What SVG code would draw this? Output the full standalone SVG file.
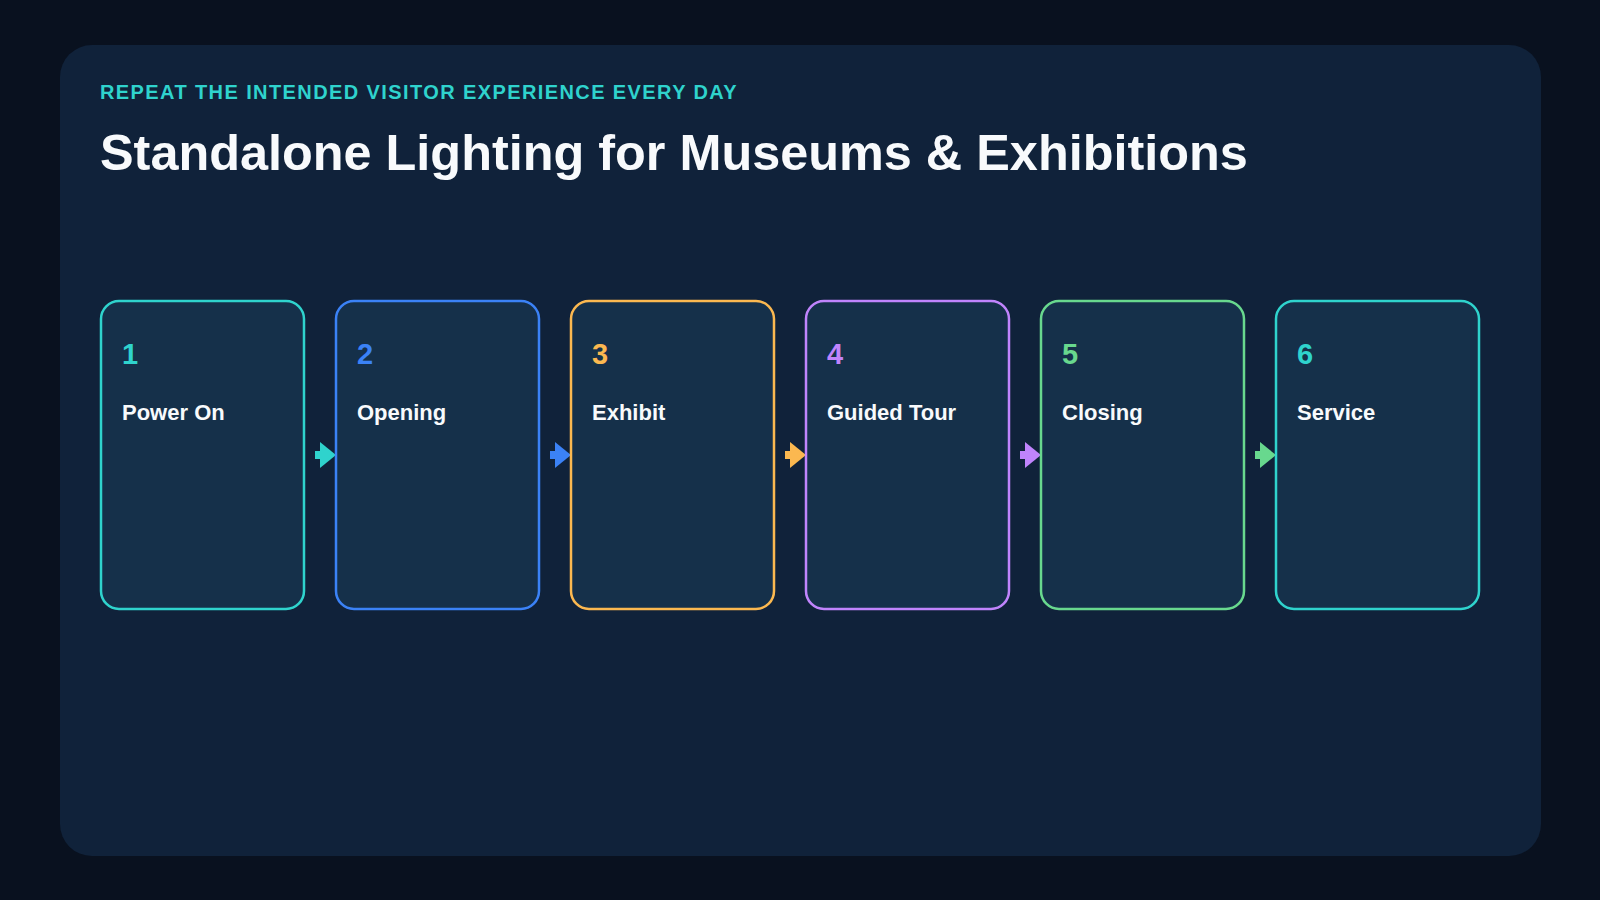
<svg xmlns="http://www.w3.org/2000/svg" width="1600" height="900" viewBox="0 0 1600 900">
<style>
.bg{fill:#09111f}
.panel{fill:#10223a}
.card{fill:#15304a;stroke-width:2.5}
.num{font-family:"Liberation Sans",Arial,sans-serif;font-weight:700;font-size:29px}
.lbl{font-family:"Liberation Sans",Arial,sans-serif;font-weight:700;font-size:22px;fill:#f8fafc}
.kicker{font-family:"Liberation Sans",Arial,sans-serif;font-weight:700;font-size:20px;letter-spacing:1.4px;fill:#2fd3cd}
.title{font-family:"Liberation Sans",Arial,sans-serif;font-weight:700;font-size:50.4px;fill:#f8fafc}
.shaft{stroke-width:8;fill:none}
</style>
<rect class="bg" x="0" y="0" width="1600" height="900"/>
<rect class="panel" x="60" y="45" width="1481" height="811" rx="32"/>
<text class="kicker" x="100" y="99">REPEAT THE INTENDED VISITOR EXPERIENCE EVERY DAY</text>
<text class="title" x="100" y="170">Standalone Lighting for Museums &amp; Exhibitions</text>
<g id="connectors">
<g fill="#2fd3cd" stroke="#2fd3cd"><line class="shaft" x1="315" y1="455" x2="324" y2="455"/><polygon stroke="none" points="320,442 336,455 320,468"/></g>
<g fill="#3b82f6" stroke="#3b82f6"><line class="shaft" x1="550" y1="455" x2="559" y2="455"/><polygon stroke="none" points="555,442 571,455 555,468"/></g>
<g fill="#fbb850" stroke="#fbb850"><line class="shaft" x1="785" y1="455" x2="794" y2="455"/><polygon stroke="none" points="790,442 806,455 790,468"/></g>
<g fill="#c084fc" stroke="#c084fc"><line class="shaft" x1="1020" y1="455" x2="1029" y2="455"/><polygon stroke="none" points="1025,442 1041,455 1025,468"/></g>
<g fill="#68d88e" stroke="#68d88e"><line class="shaft" x1="1255" y1="455" x2="1264" y2="455"/><polygon stroke="none" points="1260,442 1276,455 1260,468"/></g>
</g>
<g id="node1"><rect class="card" x="101" y="301" width="203" height="308" rx="18" stroke="#2fd3cd"/><text class="num" x="122" y="364" fill="#2fd3cd">1</text><text class="lbl" x="122" y="420">Power On</text></g>
<g id="node2"><rect class="card" x="336" y="301" width="203" height="308" rx="18" stroke="#3b82f6"/><text class="num" x="357" y="364" fill="#3b82f6">2</text><text class="lbl" x="357" y="420">Opening</text></g>
<g id="node3"><rect class="card" x="571" y="301" width="203" height="308" rx="18" stroke="#fbb850"/><text class="num" x="592" y="364" fill="#fbb850">3</text><text class="lbl" x="592" y="420">Exhibit</text></g>
<g id="node4"><rect class="card" x="806" y="301" width="203" height="308" rx="18" stroke="#c084fc"/><text class="num" x="827" y="364" fill="#c084fc">4</text><text class="lbl" x="827" y="420">Guided Tour</text></g>
<g id="node5"><rect class="card" x="1041" y="301" width="203" height="308" rx="18" stroke="#68d88e"/><text class="num" x="1062" y="364" fill="#68d88e">5</text><text class="lbl" x="1062" y="420">Closing</text></g>
<g id="node6"><rect class="card" x="1276" y="301" width="203" height="308" rx="18" stroke="#2fd3cd"/><text class="num" x="1297" y="364" fill="#2fd3cd">6</text><text class="lbl" x="1297" y="420">Service</text></g>
</svg>
